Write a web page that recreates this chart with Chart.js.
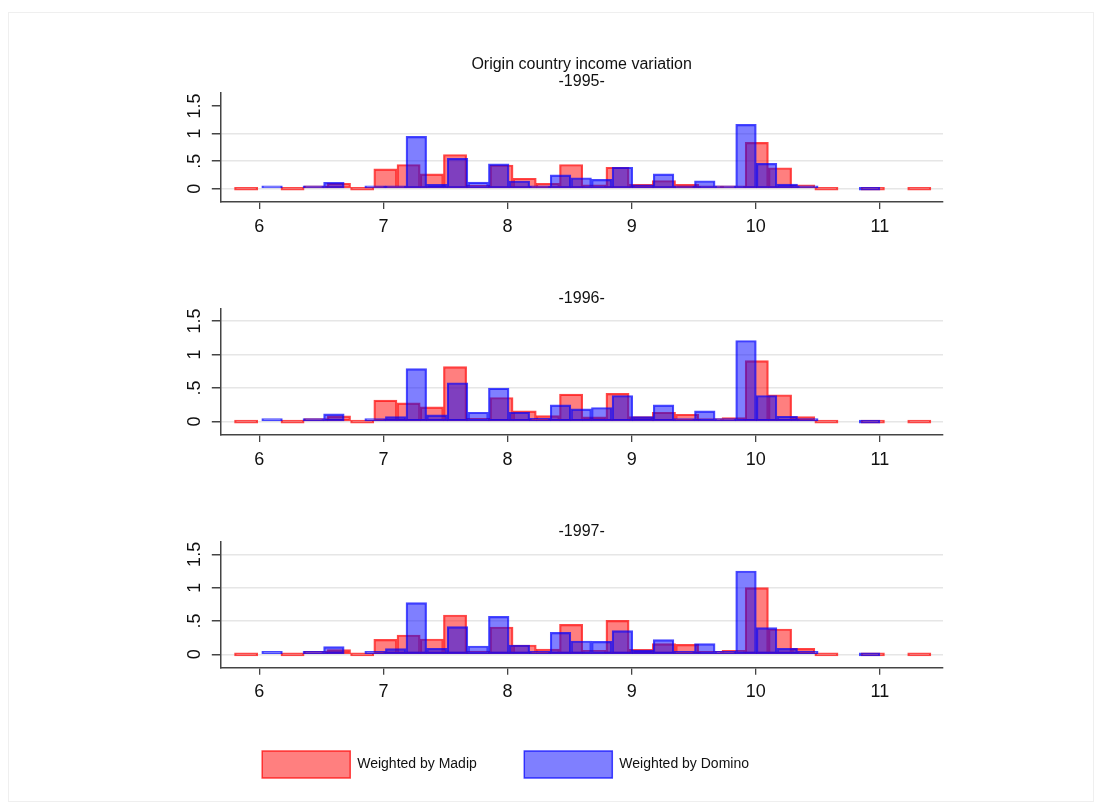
<!DOCTYPE html>
<html>
<head>
<meta charset="utf-8">
<title>Origin country income variation</title>
<script src="https://cdn.jsdelivr.net/npm/chart.js@4.4.0/dist/chart.umd.min.js"></script>
<style>
  html, body { margin: 0; padding: 0; background: #fff; }
  #page { position: relative; width: 1102px; height: 810px; overflow: hidden; }
  .frame { position: absolute; left: 8px; top: 12px; width: 1086px; height: 790px; border: 1px solid #efefef; box-sizing: border-box; }
  .panel { position: absolute; left: 0; width: 1102px; }
</style>
</head>
<body>
<div id="page">
  <div class="frame"></div>
  <div class="panel" style="top:40px;height:200px"><canvas id="c1995"></canvas></div>
  <div class="panel" style="top:270px;height:205px"><canvas id="c1996"></canvas></div>
  <div class="panel" style="top:500px;height:310px"><canvas id="c1997"></canvas></div>
</div>
<script>
// bin centres (log income), the two weightings use different bins
const madipBins = [5.894, 6.081, 6.268, 6.455, 6.642, 6.829, 7.016, 7.203, 7.390, 7.577,
                   7.764, 7.951, 8.138, 8.325, 8.512, 8.699, 8.886, 9.073, 9.260, 9.447,
                   9.634, 9.821, 10.008, 10.195, 10.382, 10.569, 10.756, 10.943, 11.130, 11.317];
const dominoBins = [6.103, 6.269, 6.435, 6.601, 6.767, 6.933, 7.099, 7.265, 7.431, 7.597,
                    7.763, 7.929, 8.095, 8.261, 8.427, 8.593, 8.759, 8.925, 9.091, 9.257,
                    9.423, 9.589, 9.755, 9.921, 10.087, 10.253, 10.419, 10.585, 10.751, 10.917];

// densities, null = empty bin
const madip1995 = [0, null, 0, 0.04, 0.10, 0, 0.36, 0.44, 0.27, 0.62,
                   0.06, 0.43, 0.19, 0.10, 0.44, 0.07, 0.39, 0.08, 0.15, 0.08,
                   0.02, 0.05, 0.84, 0.38, 0.07, 0, null, 0, null, 0];
const domino1995 = [0.03, null, 0.01, 0.115, null, 0.01, 0.05, 0.95, 0.08, 0.55,
                    0.12, 0.45, 0.14, 0.05, 0.25, 0.20, 0.17, 0.39, 0.07, 0.27,
                    0.01, 0.145, 0.04, 1.165, 0.46, 0.085, 0.05, null, null, 0];

const madip1996 = [0, null, 0, 0.04, 0.085, 0, 0.32, 0.28, 0.22, 0.82,
                   0.05, 0.36, 0.16, 0.09, 0.41, 0.07, 0.42, 0.075, 0.14, 0.11,
                   0.03, 0.06, 0.91, 0.40, 0.075, 0, null, 0, null, 0];
const domino1996 = [0.03, null, 0.01, 0.115, null, 0.01, 0.075, 0.79, 0.10, 0.58,
                    0.14, 0.50, 0.14, 0.05, 0.25, 0.19, 0.21, 0.39, 0.075, 0.25,
                    0.01, 0.16, 0.035, 1.21, 0.39, 0.08, 0.045, null, null, 0];

const madip1997 = [0, null, 0, 0.04, 0.07, 0, 0.225, 0.29, 0.23, 0.59,
                   0.05, 0.41, 0.14, 0.08, 0.45, 0.06, 0.51, 0.075, 0.16, 0.15,
                   0.03, 0.06, 1.00, 0.38, 0.09, 0, null, 0, null, 0];
const domino1997 = [0.03, null, 0.01, 0.115, null, 0.01, 0.085, 0.775, 0.09, 0.415,
                    0.125, 0.57, 0.14, 0.04, 0.33, 0.20, 0.195, 0.355, 0.065, 0.22,
                    0.02, 0.16, 0.04, 1.25, 0.40, 0.09, 0.04, null, null, 0];

const xTicks = [6, 7, 8, 9, 10, 11];
const xTickLabels = ['6', '7', '8', '9', '10', '11'];
const yTicks = [0, 0.5, 1, 1.5];
const yTickLabels = ['0', '.5', '1', '1.5'];

Chart.defaults.font.family = "'Liberation Sans', Arial, Helvetica, sans-serif";
Chart.defaults.color = '#111';

const AXIS = '#444';
const GRID = '#e6e6e6';

function toPoints(bins, vals) {
  return bins.map((x, i) => ({ x: x, y: vals[i] }));
}

function makePanel(id, p) {
  const plugins = {
    title: {
      display: true, text: p.title, fullSize: false, color: '#111',
      font: { size: 16, weight: 'normal', lineHeight: 1 },
      padding: p.titlePad
    },
    subtitle: {
      display: !!p.subtitle, text: p.subtitle || '', fullSize: false, color: '#111',
      font: { size: 16, weight: 'normal', lineHeight: 1 },
      padding: p.subPad || 0
    },
    legend: {
      display: !!p.legend, position: 'bottom',
      labels: {
        boxWidth: 88, boxHeight: 27, padding: 47.5, color: '#111',
        font: { size: 14 },
        sort: (a, b) => a.datasetIndex - b.datasetIndex
      }
    },
    tooltip: { enabled: false }
  };

  new Chart(document.getElementById(id), {
    type: 'bar',
    data: {
      datasets: [
        {
          label: 'Weighted by Madip',
          data: toPoints(madipBins, p.madip),
          xAxisID: 'x',
          backgroundColor: 'rgba(255,0,0,0.5)',
          borderColor: 'rgba(255,0,0,0.72)',
          borderWidth: 1.5,
          borderSkipped: false,
          order: 1
        },
        {
          label: 'Weighted by Domino',
          data: toPoints(dominoBins, p.domino),
          xAxisID: 'x2',
          backgroundColor: 'rgba(0,0,255,0.5)',
          borderColor: 'rgba(0,0,255,0.72)',
          borderWidth: 1.5,
          borderSkipped: false,
          order: 0
        }
      ]
    },
    options: {
      responsive: true,
      maintainAspectRatio: false,
      animation: false,
      events: [],
      layout: { padding: { left: 68.2, right: 159, top: 0, bottom: p.padBottom } },
      datasets: { bar: { barPercentage: 1, categoryPercentage: 1, grouped: false, minBarLength: 3 } },
      plugins: plugins,
      scales: {
        x: {
          type: 'linear', min: 5.686, max: 11.508, offset: false,
          afterBuildTicks: s => { s.ticks = xTicks.map(v => ({ value: v })); },
          afterFit: s => { s.height = 35.8; },
          grid: { offset: false, drawOnChartArea: false, drawTicks: true, tickLength: 7, tickColor: AXIS, lineWidth: 1.3 },
          border: { display: true, color: AXIS, width: 1.5 },
          ticks: {
            padding: 7, color: '#111', font: { size: 18 },
            callback: v => xTickLabels[xTicks.indexOf(v)]
          }
        },
        x2: {
          type: 'linear', display: false, min: 5.686, max: 11.508, offset: false,
          grid: { offset: false },
          afterBuildTicks: s => { s.ticks = xTicks.map(v => ({ value: v })); }
        },
        y: {
          type: 'linear', min: p.yMin, max: p.yMax,
          afterBuildTicks: s => { s.ticks = yTicks.map(v => ({ value: v })); },
          afterFit: s => { s.width = 152.1; },
          grid: {
            color: c => (c.tick && c.tick.value > p.gridTop) ? 'rgba(0,0,0,0)' : GRID,
            tickColor: AXIS, tickLength: 8.5, lineWidth: 1.5
          },
          border: { display: true, color: AXIS, width: 1.5 },
          ticks: {
            minRotation: 90, maxRotation: 90, crossAlign: 'center',
            padding: 4.3, color: '#111', font: { size: 18 },
            callback: v => yTickLabels[yTicks.indexOf(v)]
          }
        }
      }
    }
  });
}

makePanel('c1995', {
  title: 'Origin country income variation', subtitle: '-1995-',
  titlePad: { top: 17, bottom: 0 }, subPad: { top: 1, bottom: 2.7 },
  madip: madip1995, domino: domino1995,
  yMin: -0.24, yMax: 1.74, gridTop: 1.2, padBottom: 2.2
});

makePanel('c1996', {
  title: '-1996-', titlePad: { top: 21, bottom: 2 },
  madip: madip1996, domino: domino1996,
  yMin: -0.2, yMax: 1.68, gridTop: 2, padBottom: 4.2
});

makePanel('c1997', {
  title: '-1997-', titlePad: { top: 24, bottom: 1.7 },
  madip: madip1997, domino: domino1997, legend: true,
  yMin: -0.2, yMax: 1.69, gridTop: 2, padBottom: 22
});
</script>
</body>
</html>
